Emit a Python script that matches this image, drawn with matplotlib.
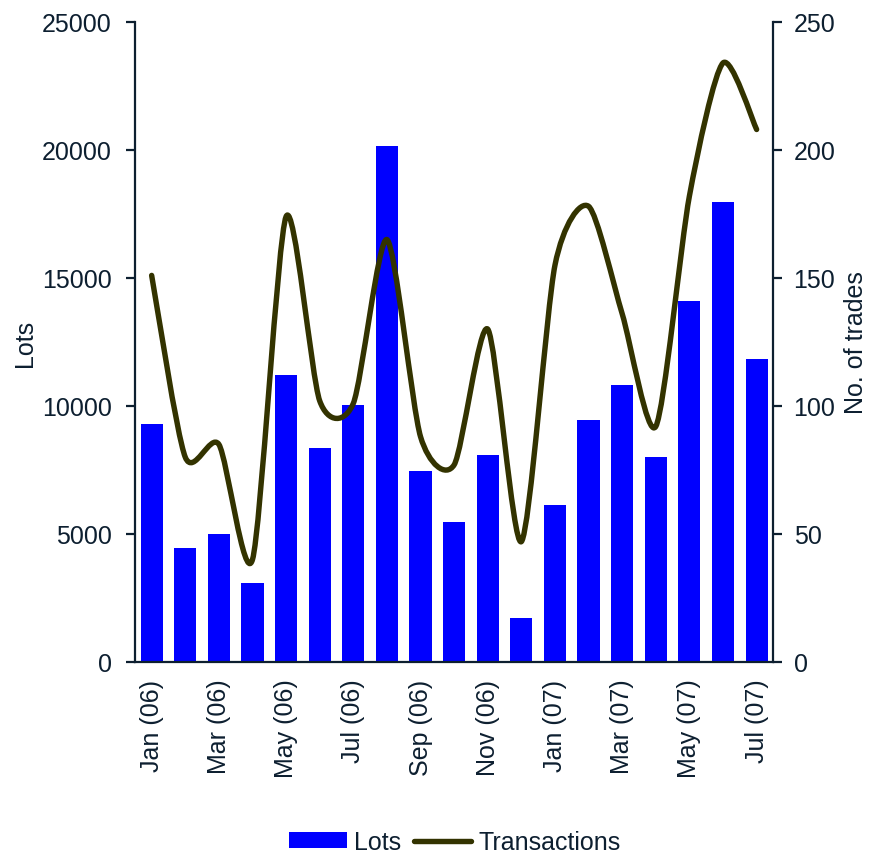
import matplotlib
matplotlib.use("Agg")
import matplotlib.pyplot as plt
from matplotlib.path import Path
from matplotlib.patches import PathPatch, Patch
from matplotlib.lines import Line2D
import numpy as np

plt.rcParams['font.family'] = ['Liberation Sans', 'DejaVu Sans']

months = ["Jan (06)", "Feb (06)", "Mar (06)", "Apr (06)", "May (06)", "Jun (06)",
          "Jul (06)", "Aug (06)", "Sep (06)", "Oct (06)", "Nov (06)", "Dec (06)",
          "Jan (07)", "Feb (07)", "Mar (07)", "Apr (07)", "May (07)", "Jun (07)", "Jul (07)"]
lots = [9300, 4450, 5000, 3100, 11200, 8350, 10050, 20150, 7450, 5450,
        8100, 1700, 6150, 9450, 10800, 8000, 14100, 17950, 11850]
transactions = [151, 80, 85, 40, 174, 102, 101, 165, 88, 77,
                130, 47, 155, 178, 136, 92, 182, 234, 208]

TXT = "#0d1f30"
BAR = "#0000ff"
LINE = "#333300"

fig = plt.figure(figsize=(8.7, 8.54), dpi=100)
ax = fig.add_axes([0.155, 0.2237, 0.734, 0.7494])
ax2 = ax.twinx()

x = np.arange(len(months))
ax.bar(x, lots, width=0.66, color=BAR, zorder=2)
ax.set_ylim(0, 25000)
ax.set_xlim(-0.5, len(months) - 0.5)
ax.set_yticks(np.arange(0, 25001, 5000))
ax.set_xticks(x[::2])
ax.set_xticklabels(months[::2], rotation=90, va='top', ha='center')

# smoothed line: cubic Bezier segments through the monthly points
pts = np.column_stack([x, transactions]).astype(float)
verts = [tuple(pts[0])]
codes = [Path.MOVETO]
n = len(pts)
f = 1.0 / 8.0
for i in range(n - 1):
    p0 = pts[i - 1] if i > 0 else pts[i]
    p1 = pts[i]
    p2 = pts[i + 1]
    p3 = pts[i + 2] if i + 2 < n else pts[i + 1]
    c1 = p1 + (p2 - p0) * f
    c2 = p2 - (p3 - p1) * f
    verts += [tuple(c1), tuple(c2), tuple(p2)]
    codes += [Path.CURVE4] * 3
ax2.add_patch(PathPatch(Path(verts, codes), facecolor='none', edgecolor=LINE,
                        lw=3.9, capstyle='round', joinstyle='round', zorder=3))
ax2.set_ylim(0, 250)
ax2.set_yticks(np.arange(0, 251, 50))

for a in (ax, ax2):
    a.spines['top'].set_visible(False)
    for s in a.spines.values():
        s.set_color(TXT)
        s.set_linewidth(1.6)
    a.tick_params(colors=TXT, labelsize=18, width=1.6, length=6.5)
ax.spines['right'].set_visible(False)
ax2.spines['left'].set_visible(False)
ax2.spines['bottom'].set_visible(False)
ax.tick_params(axis='y', pad=10)
ax2.tick_params(axis='y', pad=8)
ax.tick_params(axis='x', length=0, pad=12)

ax.set_ylabel("Lots", fontsize=18, color=TXT, labelpad=4)
ax2.set_ylabel("No. of trades", fontsize=18, color=TXT, labelpad=6.5)

handles = [Patch(facecolor=BAR, edgecolor='none'),
           Line2D([0], [0], color=LINE, lw=3.9, solid_capstyle='round')]
fig.legend(handles, ["Lots", "Transactions"], loc='center', bbox_to_anchor=(0.523, 0.013),
           ncol=2, frameon=False, fontsize=18, handlelength=2.3, handleheight=0.6,
           handletextpad=0.3, columnspacing=0.5, labelcolor=TXT)

fig.savefig("out.png", dpi=100)
